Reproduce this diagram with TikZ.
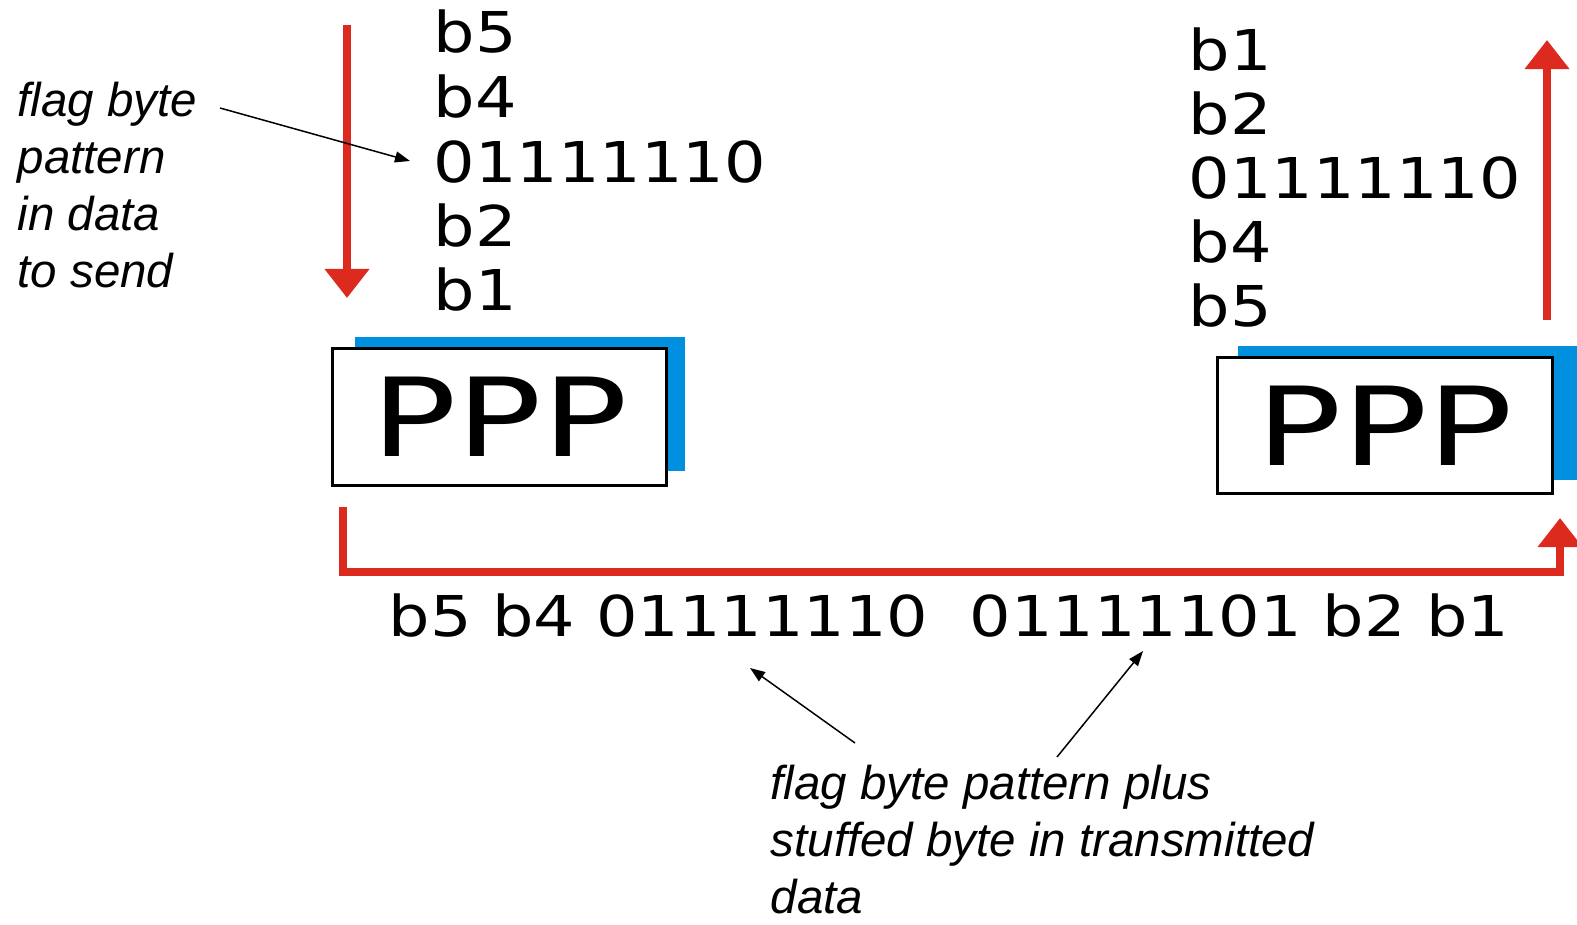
\documentclass[tikz,border=0pt]{standalone}
\usepackage{fontspec}
\usetikzlibrary{arrows.meta}
\newfontfamily\geo{DejaVu Sans}
\newfontfamily\helv{Liberation Sans}
\definecolor{pred}{HTML}{DC2A1E}
\definecolor{pblue}{HTML}{0090DF}
\tikzset{
  bits/.style={anchor=base west, inner sep=0pt, xscale=1.16, font=\geo\fontsize{16}{20}\selectfont},
  note/.style={anchor=base west, inner sep=0pt, align=left, font=\helv\itshape\fontsize{13.5}{16.2}\selectfont},
  flow/.style={draw=pred, line width=0.08cm, -{Triangle[length=0.29cm,width=0.43cm]}},
  pointer/.style={draw=black, line width=0.015cm, -{Triangle[length=0.15cm,width=0.11cm]}},
  pppbox/.style={draw=black, line width=0.03cm, fill=white, minimum width=3.33cm, minimum height=1.36cm, inner sep=0pt},
  ppptext/.style={inner sep=0pt, xscale=1.3, font=\geo\fontsize{31}{36}\selectfont},
}
\begin{document}
\begin{tikzpicture}[x=0.01cm, y=-0.01cm]
\useasboundingbox (0,0) rectangle (1577,924);
% left side
\fill[pblue] (355,337) rectangle (685,471);
\node[pppbox] (pppL) at (499.5,417) {};
\node[ppptext] (pppLt) at (pppL) {PPP};
\node[bits] (l1) at (433,52) {b5};
\node[bits] (l2) at (433,117) {b4};
\node[bits] (l3) at (433,182) {01111110};
\node[bits] (l4) at (433,246) {b2};
\node[bits] (l5) at (433,310) {b1};
\coordinate (inTop) at (347,25);
\coordinate (inTip) at (347,298);
\draw[flow] (inTop) -- (inTip);
\node[note] (noteL) at (17,287) {flag byte\\pattern\\in data\\to send};
\coordinate (noteLs) at (220,108);
\coordinate (noteLe) at (410,161);
\draw[pointer] (noteLs) -- (noteLe);
% right side
\fill[pblue] (1238,346) rectangle (1577,480);
\node[pppbox, minimum width=3.34cm, minimum height=1.35cm] (pppR) at (1385,425.5) {};
\node[ppptext] (pppRt) at (pppR) {PPP};
\node[bits] (r1) at (1188,70) {b1};
\node[bits] (r2) at (1188,134) {b2};
\node[bits] (r3) at (1188,198) {01111110};
\node[bits] (r4) at (1188,262) {b4};
\node[bits] (r5) at (1188,326) {b5};
\coordinate (outBot) at (1547,320);
\coordinate (outTip) at (1547,40);
\draw[flow] (outBot) -- (outTip);
% link
\coordinate (linkA) at (343,507);
\coordinate (linkB) at (1560,518);
\draw[flow] (linkA) -- (343,572) -- (1560,572) -- (linkB);
\node[bits] (stream) at (388,636) {b5 b4 01111110\ \ 01111101 b2 b1};
\node[note] (noteB) at (770,913) {flag byte pattern plus\\stuffed byte in transmitted\\data};
\coordinate (pa) at (855,743);
\coordinate (pat) at (750,668);
\coordinate (pb) at (1057,757);
\coordinate (pbt) at (1143,651);
\draw[pointer] (pa) -- (pat);
\draw[pointer] (pb) -- (pbt);
\end{tikzpicture}
\end{document}
